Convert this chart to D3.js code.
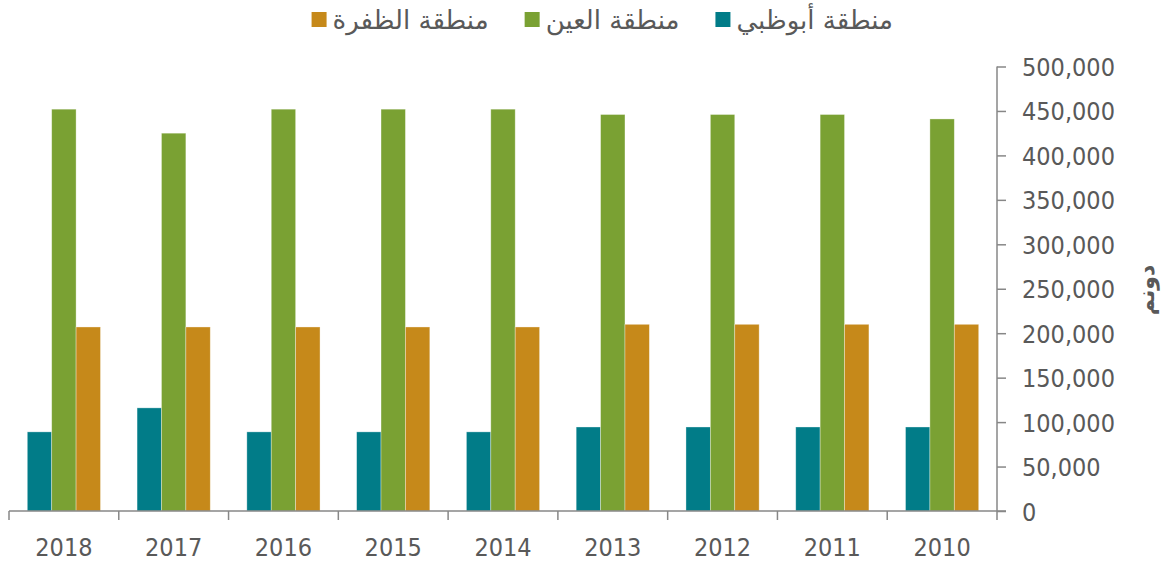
<!DOCTYPE html>
<html lang="ar">
<head>
    <meta charset="UTF-8">
    <title>المساحة حسب المنطقة</title>
    <script src="https://d3js.org/d3.v7.min.js"></script>
    <style>
        body { margin: 0; background: #fff; }
        .tick-label { font-family: "DejaVu Sans Condensed", "DejaVu Sans", sans-serif; font-size: 25px; fill: #595959; }
        .legend-text { font-family: "DejaVu Sans", sans-serif; font-size: 26px; fill: #595959; }
        .axis-title { font-family: "DejaVu Sans", sans-serif; font-size: 22px; font-weight: bold; fill: #595959; }
    </style>
</head>
<body>
<script>
    // data
    const years = ["2018", "2017", "2016", "2015", "2014", "2013", "2012", "2011", "2010"];
    const seriesNames = ["منطقة أبوظبي", "منطقة العين", "منطقة الظفرة"];
    const abuDhabi = [89000, 116000, 89000, 89000, 89000, 94500, 94500, 94500, 94500];
    const alAin = [452000, 425000, 452000, 452000, 452000, 446000, 446000, 446000, 441000];
    const alDhafra = [207000, 207000, 207000, 207000, 207000, 210000, 210000, 210000, 210000];
    const yTicks = [0, 50000, 100000, 150000, 200000, 250000, 300000, 350000, 400000, 450000, 500000];
    const colors = ["#017C88", "#7AA133", "#C6891A"];

    const width = 1162, height = 563;
    const plotLeft = 9, plotRight = 997, plotTop = 66.5, plotBottom = 511;

    const svg = d3.select("body").append("svg")
        .attr("width", width)
        .attr("height", height);

    const x0 = d3.scaleBand().domain(years).range([plotLeft, plotRight])
        .paddingInner(1 / 3).paddingOuter(1 / 6);
    const x1 = d3.scaleBand().domain(seriesNames).range([0, x0.bandwidth()]);
    const y = d3.scaleLinear().domain([0, 500000]).range([plotBottom, plotTop]);

    const allSeries = [abuDhabi, alAin, alDhafra];

    // bars
    const groups = svg.selectAll("g.year")
        .data(years)
        .enter().append("g")
        .attr("class", "year")
        .attr("transform", d => "translate(" + x0(d) + ",0)");

    groups.selectAll("rect")
        .data((d, i) => seriesNames.map((s, j) => ({ s: s, j: j, v: allSeries[j][i] })))
        .enter().append("rect")
        .attr("x", d => x1(d.s))
        .attr("width", x1.bandwidth())
        .attr("y", d => y(d.v))
        .attr("height", d => y(0) - y(d.v))
        .attr("fill", d => colors[d.j])
        .attr("stroke", "#ffffff")
        .attr("stroke-opacity", 0.45)
        .attr("stroke-width", 0.75);

    // x axis line + ticks at band boundaries
    const axisColor = "#878787";
    svg.append("line")
        .attr("x1", plotLeft).attr("x2", plotRight + 9)
        .attr("y1", plotBottom).attr("y2", plotBottom)
        .attr("stroke", axisColor).attr("stroke-width", 1.5);

    const step = x0.step();
    const bounds = years.map(d => x0(d) - step * x0.paddingOuter()).concat([plotRight]);
    svg.selectAll("line.xtick")
        .data(bounds)
        .enter().append("line")
        .attr("class", "xtick")
        .attr("x1", d => d).attr("x2", d => d)
        .attr("y1", plotBottom).attr("y2", plotBottom + 9)
        .attr("stroke", axisColor).attr("stroke-width", 1.5);

    svg.selectAll("text.xlab")
        .data(years)
        .enter().append("text")
        .attr("class", "tick-label xlab")
        .attr("x", d => x0(d) + x0.bandwidth() / 2)
        .attr("y", 556)
        .attr("text-anchor", "middle")
        .text(d => d);

    // y axis on the right
    const yAxis = d3.axisRight(y)
        .tickValues(yTicks)
        .tickSize(9)
        .tickPadding(16)
        .tickFormat(d3.format(","));

    const yg = svg.append("g")
        .attr("transform", "translate(" + plotRight + ",0)")
        .call(yAxis);
    yg.select(".domain").attr("stroke", axisColor).attr("stroke-width", 1.5)
        .attr("d", "M0," + plotTop + "V" + plotBottom);
    yg.selectAll(".tick line").attr("stroke", axisColor).attr("stroke-width", 1.5);
    yg.selectAll(".tick text")
        .attr("class", "tick-label")
        .attr("dy", "0.36em");

    // axis title
    svg.append("text")
        .attr("class", "axis-title")
        .attr("transform", "translate(1146,290) rotate(-90)")
        .attr("text-anchor", "middle")
        .attr("dy", "0.35em")
        .text("دونم");

    // legend, laid out right to left
    const legend = svg.append("g");
    let xr = 893;
    seriesNames.forEach((name, i) => {
        const t = legend.append("text")
            .attr("class", "legend-text")
            .attr("x", xr)
            .attr("y", 29)
            .attr("text-anchor", "end")
            .text(name);
        const w = t.node().getComputedTextLength();
        legend.append("rect")
            .attr("x", xr - w - 21)
            .attr("y", 12)
            .attr("width", 15)
            .attr("height", 15)
            .attr("fill", colors[i]);
        xr = xr - w - 21 - 36;
    });
</script>
</body>
</html>
